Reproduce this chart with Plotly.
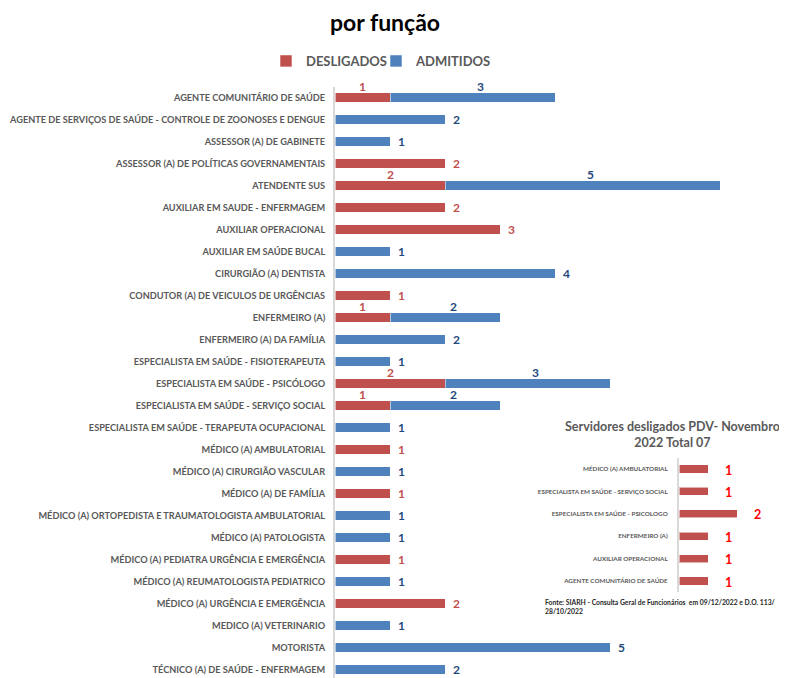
import plotly.graph_objects as go

# ---------------- data ----------------
categorias = [
    "AGENTE COMUNITÁRIO DE SAÚDE",
    "AGENTE DE SERVIÇOS DE SAÚDE - CONTROLE DE ZOONOSES E DENGUE",
    "ASSESSOR (A) DE GABINETE",
    "ASSESSOR (A) DE POLÍTICAS GOVERNAMENTAIS",
    "ATENDENTE SUS",
    "AUXILIAR EM SAUDE - ENFERMAGEM",
    "AUXILIAR OPERACIONAL",
    "AUXILIAR EM SAÚDE BUCAL",
    "CIRURGIÃO (A) DENTISTA",
    "CONDUTOR (A) DE VEICULOS DE URGÊNCIAS",
    "ENFERMEIRO (A)",
    "ENFERMEIRO (A) DA FAMÍLIA",
    "ESPECIALISTA EM SAÚDE - FISIOTERAPEUTA",
    "ESPECIALISTA EM SAÚDE - PSICÓLOGO",
    "ESPECIALISTA EM SAÚDE - SERVIÇO SOCIAL",
    "ESPECIALISTA EM SAÚDE - TERAPEUTA OCUPACIONAL",
    "MÉDICO (A) AMBULATORIAL",
    "MÉDICO (A) CIRURGIÃO VASCULAR",
    "MÉDICO (A) DE FAMÍLIA",
    "MÉDICO (A) ORTOPEDISTA E TRAUMATOLOGISTA AMBULATORIAL",
    "MÉDICO (A) PATOLOGISTA",
    "MÉDICO (A) PEDIATRA URGÊNCIA E EMERGÊNCIA",
    "MÉDICO (A) REUMATOLOGISTA PEDIATRICO",
    "MÉDICO (A) URGÊNCIA E EMERGÊNCIA",
    "MEDICO (A) VETERINARIO",
    "MOTORISTA",
    "TÉCNICO (A) DE SAÚDE - ENFERMAGEM",
]
desligados = [1, 0, 0, 2, 2, 2, 3, 0, 0, 1, 1, 0, 0, 2, 1, 0, 1, 0, 1, 0, 0, 1, 0, 2, 0, 0, 0]
admitidos = [3, 2, 1, 0, 5, 0, 0, 1, 4, 0, 2, 2, 1, 3, 2, 1, 0, 1, 0, 1, 1, 0, 1, 0, 1, 5, 2]

pdv_funcoes = [
    "MÉDICO (A) AMBULATORIAL",
    "ESPECIALISTA EM SAÚDE - SERVIÇO SOCIAL",
    "ESPECIALISTA EM SAÚDE - PSICOLOGO",
    "ENFERMEIRO (A)",
    "AUXILIAR OPERACIONAL",
    "AGENTE COMUNITÁRIO DE SAÚDE",
]
pdv_desligados = [1, 1, 2, 1, 1, 1]

titulo = "por função"
titulo_inset = "Servidores desligados PDV- Novembro<br>2022 Total 07"
fonte = "Fonte: SIARH - Consulta Geral de Funcionários  em 09/12/2022 e D.O. 113/<br>28/10/2022"

# ---------------- layout helpers ----------------
# the page places the figure 8 px in from the window's top-left corner;
# px/py take window-pixel positions and return paper fractions
W, H = 787, 678
OFF = 8
def px(x):
    return (x - OFF) / W
def py(y):
    return 1 - (y - OFF) / H

RED = "#C0504D"
BLUE = "#4F81BD"
RED_TXT = "#C0504D"
BLUE_TXT = "#1F497D"
GRAY = "#595959"
FONT = "Lato"
EDGE = "rgba(255,255,255,0.55)"

fig = go.Figure()

fig.add_trace(go.Bar(
    name="DESLIGADOS", y=categorias, x=[v if v else None for v in desligados],
    orientation="h", marker=dict(color=RED, line=dict(color=EDGE, width=1)),
    width=0.41, xaxis="x", yaxis="y", hoverinfo="x+y", legend="legend",
))
fig.add_trace(go.Bar(
    name="ADMITIDOS", y=categorias, x=[v if v else None for v in admitidos],
    orientation="h", marker=dict(color=BLUE, line=dict(color=EDGE, width=1)),
    width=0.41, xaxis="x", yaxis="y", hoverinfo="x+y", legend="legend2",
))
fig.add_trace(go.Bar(
    name="PDV", y=pdv_funcoes, x=pdv_desligados, orientation="h",
    marker=dict(color=RED, line=dict(color=EDGE, width=1)),
    width=0.36, xaxis="x2", yaxis="y2", showlegend=False, hoverinfo="x+y",
))

annotations = []
lbl_font_r = dict(family=FONT, size=12, color=RED_TXT, weight="bold")
lbl_font_b = dict(family=FONT, size=12, color=BLUE_TXT, weight="bold")
for cat, d, a in zip(categorias, desligados, admitidos):
    if d and a:
        annotations.append(dict(x=d / 2, y=cat, xref="x", yref="y", text=str(d),
                                showarrow=False, yshift=11, font=lbl_font_r))
        annotations.append(dict(x=d + a / 2, y=cat, xref="x", yref="y", text=str(a),
                                showarrow=False, yshift=11, xshift=8, font=lbl_font_b))
    elif d:
        annotations.append(dict(x=d, y=cat, xref="x", yref="y", text=str(d),
                                showarrow=False, xshift=11, font=lbl_font_r))
    elif a:
        annotations.append(dict(x=a, y=cat, xref="x", yref="y", text=str(a),
                                showarrow=False, xshift=11, font=lbl_font_b))

for cat, v in zip(pdv_funcoes, pdv_desligados):
    annotations.append(dict(x=v, y=cat, xref="x2", yref="y2", text=str(v),
                            showarrow=False, xshift=20, yshift=-1,
                            font=dict(family=FONT, size=12.5, color="#FF0000", weight="bold")))

annotations.append(dict(x=px(672), y=py(434), xref="paper", yref="paper",
                        text=titulo_inset, showarrow=False, xanchor="center", yanchor="middle",
                        font=dict(family=FONT, size=12.5, color=GRAY, weight="bold")))
annotations.append(dict(x=px(543), y=py(606), xref="paper", yref="paper", align="left",
                        text=fonte, showarrow=False, xanchor="left", yanchor="middle",
                        font=dict(family=FONT, size=6.8, color="#262626", weight="bold")))

legend_style = dict(orientation="h", y=py(61), xanchor="left", yanchor="middle",
                    font=dict(family=FONT, size=13, color=GRAY, weight="bold"),
                    itemwidth=30, bgcolor="rgba(0,0,0,0)")

fig.update_layout(
    width=W, height=H,
    margin=dict(l=0, r=0, t=0, b=0),
    paper_bgcolor="white", plot_bgcolor="rgba(0,0,0,0)",
    barmode="stack",
    title=dict(text=titulo, x=px(385), y=py(23), xanchor="center", yanchor="middle",
               xref="paper", yref="paper",
               font=dict(family=FONT, size=23, color="black", weight="bold")),
    showlegend=True,
    legend=dict(x=px(266), **legend_style),
    legend2=dict(x=px(376), **legend_style),
    xaxis=dict(domain=[px(335), px(775)], range=[0, 8], visible=False, fixedrange=True),
    yaxis=dict(domain=[0, py(86.5)], range=[26.75, -0.5], categoryorder="array",
               categoryarray=categorias, showline=True, linecolor="#D9D9D9", linewidth=2,
               showgrid=False, zeroline=False, ticks="", ticklabelstandoff=6,
               tickfont=dict(family=FONT, size=9.2, color=GRAY, weight="bold")),
    xaxis2=dict(domain=[px(679), 1.0], range=[0, 4], visible=False, anchor="y2"),
    yaxis2=dict(domain=[py(592.2), py(457.8)], range=[5.5, -0.5], anchor="x2",
                categoryorder="array", categoryarray=pdv_funcoes,
                showline=True, linecolor="#D9D9D9", linewidth=2, showgrid=False,
                zeroline=False, ticks="", ticklabelstandoff=8,
                tickfont=dict(family=FONT, size=6.3, color=GRAY, weight="bold")),
    annotations=annotations,
    bargap=0.5,
)

fig.write_html("out.html")
